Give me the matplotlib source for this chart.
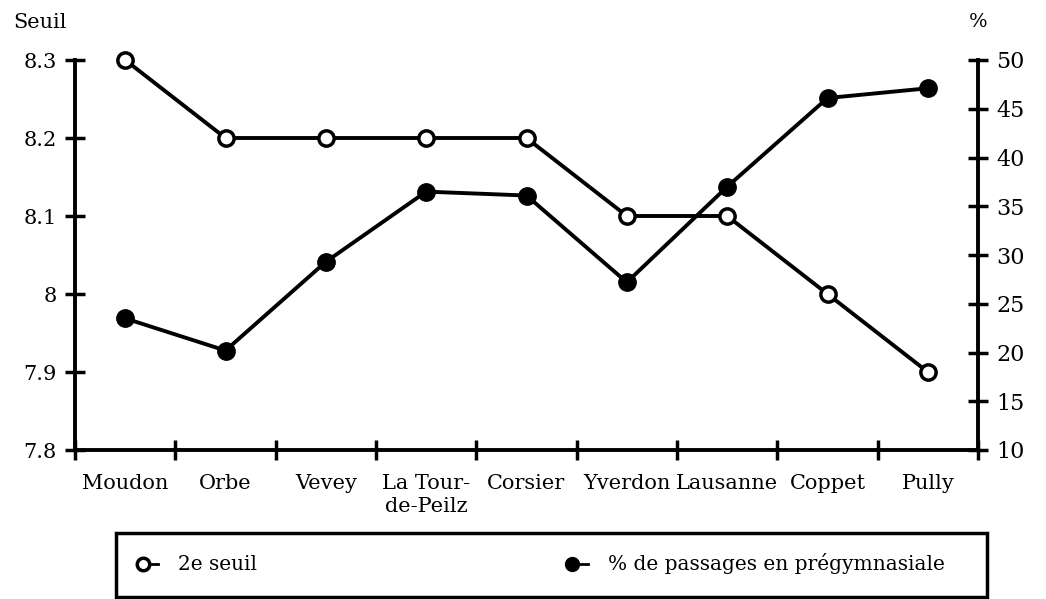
import matplotlib
matplotlib.use("Agg")
import matplotlib.pyplot as plt
from matplotlib.lines import Line2D
from matplotlib.patches import Rectangle
import numpy as np

categories = ["Moudon", "Orbe", "Vevey", "La Tour-\nde-Peilz", "Corsier",
              "Yverdon", "Lausanne", "Coppet", "Pully"]
seuil = [8.3, 8.2, 8.2, 8.2, 8.2, 8.1, 8.1, 8.0, 7.9]
passages = [23.5, 20.2, 29.3, 36.5, 36.1, 27.2, 37.0, 46.1, 47.1]
left_ticks = [7.8, 7.9, 8.0, 8.1, 8.2, 8.3]
left_labels = ["7.8", "7.9", "8", "8.1", "8.2", "8.3"]
right_ticks = [10, 15, 20, 25, 30, 35, 40, 45, 50]

plt.rcParams['font.family'] = ['DejaVu Serif']
FS = 15

fig = plt.figure(figsize=(10.46, 5.99), dpi=100)
W, H = 1046, 599
ax = fig.add_axes([75 / W, 1 - 450 / H, (978 - 75) / W, (450 - 60) / H])
ax2 = ax.twinx()

x = np.arange(len(categories)) + 0.5
lw = 2.8

ax.plot(x, seuil, color='black', lw=lw, marker='o', ms=11, mfc='white',
        mec='black', mew=2.5, zorder=3, clip_on=False)
ax2.plot(x, passages, color='black', lw=lw, marker='o', ms=12.5, mfc='black',
         mec='black', zorder=3, clip_on=False)

ax.set_xlim(0, len(categories))
ax.set_ylim(7.8, 8.3)
ax2.set_ylim(10, 50)

ax.set_yticks(left_ticks)
ax.set_yticklabels(left_labels, fontsize=FS)
ax2.set_yticks(right_ticks)
ax2.set_yticklabels([str(t) for t in right_ticks], fontsize=FS + 1)

ax.set_xticks(np.arange(0, len(categories) + 1))
ax.set_xticklabels([])
ax.set_xticks(x, minor=True)
ax.set_xticklabels(categories, minor=True, fontsize=FS, linespacing=1.3)
ax.tick_params(axis='x', which='minor', length=0, pad=17)
ax.tick_params(axis='x', which='major', direction='inout', length=14, width=2.5)
ax.tick_params(axis='y', direction='inout', length=14, width=2.5, pad=6)
ax2.tick_params(axis='y', direction='inout', length=14, width=2.5, pad=6)

for a in (ax, ax2):
    a.spines['top'].set_visible(False)
    for s in ('left', 'right', 'bottom'):
        a.spines[s].set_linewidth(2.8)
ax.spines['right'].set_visible(False)
ax2.spines['left'].set_visible(False)
ax2.spines['bottom'].set_visible(False)

fig.text(13 / W, 1 - 22 / H, "Seuil", fontsize=FS, ha='left', va='center')
fig.text(978 / W, 1 - 22 / H, "%", fontsize=FS - 1, ha='center', va='center')

# legend box
fig.add_artist(Rectangle((116 / W, 1 - 597 / H), (987 - 116) / W, (597 - 533) / H,
                         transform=fig.transFigure, fill=False, lw=2.5, ec='black'))
ly = 1 - 564 / H
fig.add_artist(Line2D([143 / W], [ly], transform=fig.transFigure, marker='o', ms=9,
                      mfc='white', mec='black', mew=2.5, ls='none'))
fig.add_artist(Line2D([151 / W, 158 / W], [ly, ly], transform=fig.transFigure,
                      color='black', lw=2))
fig.text(178 / W, ly, "2e seuil", fontsize=FS - 0.5, ha='left', va='center')
fig.add_artist(Line2D([572 / W], [ly], transform=fig.transFigure, marker='o', ms=10,
                      mfc='black', mec='black', ls='none'))
fig.add_artist(Line2D([580 / W, 588 / W], [ly, ly], transform=fig.transFigure,
                      color='black', lw=2))
fig.text(608 / W, ly, "% de passages en prégymnasiale", fontsize=FS - 0.5,
         ha='left', va='center')

fig.savefig("out.png", dpi=100)
